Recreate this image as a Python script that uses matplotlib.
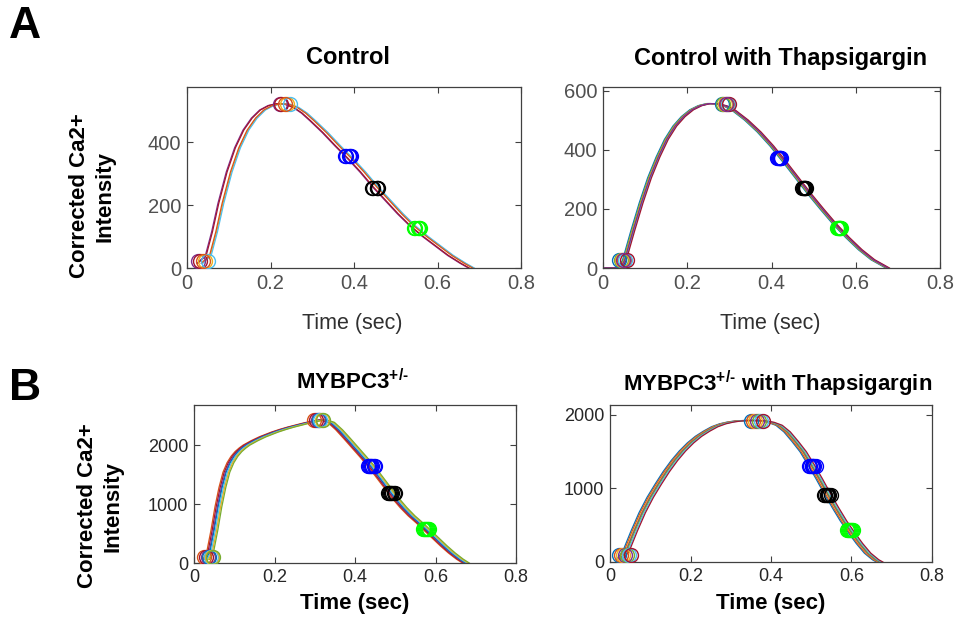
import numpy as np
import matplotlib
matplotlib.use('Agg')
import matplotlib.pyplot as plt

# MATLAB default line colours
mcol = ['#0072BD', '#D95319', '#EDB120', '#7E2F8E', '#77AC30', '#4DBEEE', '#A2142F']

# ---- Control ----
ctrl_t = [0.03, 0.05, 0.065, 0.08, 0.10, 0.12, 0.14, 0.16, 0.18, 0.20, 0.22, 0.24, 0.26, 0.28,
          0.30, 0.33, 0.36, 0.39, 0.42, 0.45, 0.48, 0.51, 0.54, 0.57, 0.60, 0.63, 0.66, 0.68]
ctrl_v = [15, 40, 115, 205, 305, 382, 438, 476, 502, 516, 522, 520, 510, 492,
          468, 430, 388, 348, 305, 258, 215, 172, 133, 100, 70, 40, 15, 0]
ctrl_shift = [-0.006, -0.004, 0.006, 0.008, 0.004]
ctrl_mshift = [-0.010, -0.006, 0.008, 0.014, 0.003]   # spread of the peak circles
ctrl_cols = [mcol[3], mcol[6], mcol[2], mcol[5], mcol[1]]
ctrl_marks = [(0.036, 22), (0.232, 520), (0.385, 355), (0.45, 254), (0.55, 127)]

# ---- Control with Thapsigargin ----
tg_t = [0.0, 0.04, 0.05, 0.07, 0.09, 0.11, 0.13, 0.15, 0.17, 0.19, 0.21, 0.23, 0.25, 0.27,
        0.29, 0.31, 0.34, 0.37, 0.40, 0.43, 0.46, 0.49, 0.52, 0.55, 0.58, 0.61, 0.64, 0.675]
tg_v = [0, 0, 25, 125, 220, 305, 375, 435, 480, 512, 535, 549, 556, 555,
        548, 533, 500, 460, 413, 360, 305, 250, 198, 148, 103, 62, 28, 0]
tg_shift = [-0.004, -0.002, 0.0, 0.002, 0.003, 0.005, 0.001]
tg_mshift = [-0.008, -0.004, 0.0, 0.004, 0.006, 0.010, 0.002]
tg_cols = [mcol[0], mcol[4], mcol[2], mcol[1], mcol[5], mcol[6], mcol[3]]
tg_marks = [(0.046, 27), (0.29, 555), (0.418, 373), (0.477, 270), (0.56, 135)]

# ---- MYBPC3+/- ----
myb_t = [0.03, 0.04, 0.05, 0.06, 0.07, 0.08, 0.09, 0.10, 0.11, 0.12, 0.13, 0.15, 0.17, 0.20,
         0.22, 0.24, 0.26, 0.28, 0.30, 0.32, 0.34, 0.36, 0.38, 0.40, 0.42, 0.44, 0.46, 0.48,
         0.50, 0.52, 0.54, 0.56, 0.58, 0.60, 0.62, 0.64, 0.66, 0.675]
myb_v = [60, 200, 550, 950, 1280, 1540, 1700, 1810, 1890, 1950, 2000, 2075, 2140, 2220,
         2265, 2305, 2340, 2375, 2405, 2430, 2385, 2260, 2110, 1955, 1800, 1640, 1460, 1280,
         1100, 940, 800, 680, 550, 420, 290, 170, 65, 0]
myb_shift = [-0.008, -0.005, -0.002, 0.0, 0.003, 0.006, 0.009]
myb_mshift = [-0.011, -0.007, -0.003, 0.0, 0.004, 0.008, 0.011]
myb_cols = [mcol[1], mcol[6], mcol[3], mcol[0], mcol[5], mcol[2], mcol[4]]
myb_marks = [(0.037, 100), (0.31, 2430), (0.44, 1640), (0.49, 1190), (0.576, 575)]

# ---- MYBPC3+/- with Thapsigargin ----
mybt_t = [0.025, 0.04, 0.06, 0.08, 0.10, 0.12, 0.14, 0.16, 0.18, 0.20, 0.22, 0.24, 0.26, 0.28,
          0.30, 0.32, 0.34, 0.36, 0.38, 0.40, 0.42, 0.44, 0.46, 0.48, 0.50, 0.52, 0.54, 0.56,
          0.58, 0.60, 0.62, 0.64, 0.66, 0.67]
mybt_v = [40, 150, 420, 670, 880, 1060, 1230, 1380, 1510, 1620, 1710, 1780, 1840, 1880,
          1905, 1920, 1925, 1925, 1920, 1900, 1860, 1770, 1640, 1500, 1320, 1130, 930, 740,
          560, 400, 250, 120, 30, 0]
mybt_shift = [-0.008, -0.005, -0.002, 0.0, 0.002, 0.005, 0.008]
mybt_mshift = [-0.014, -0.009, -0.004, 0.0, 0.004, 0.009, 0.014]
mybt_cols = [mcol[0], mcol[1], mcol[2], mcol[3], mcol[4], mcol[5], mcol[6]]
mybt_marks = [(0.037, 90), (0.365, 1925), (0.503, 1300), (0.54, 910), (0.596, 435)]

decay_cols = ['#0000FF', '#000000', '#00FF00']

plt.rcParams['font.family'] = ['Liberation Sans', 'DejaVu Sans']
plt.rcParams['mathtext.fontset'] = 'custom'
plt.rcParams['mathtext.bf'] = 'Liberation Sans:bold'
plt.rcParams['mathtext.rm'] = 'Liberation Sans:bold'
plt.rcParams['mathtext.it'] = 'Liberation Sans:bold'

W, H = 957, 630
fig = plt.figure(figsize=(W / 100, H / 100), dpi=100)


def box(x0, y0, x1, y1):
    return [x0 / W, 1 - y1 / H, (x1 - x0) / W, (y1 - y0) / H]


def panel(rect, t, v, shifts, mshifts, cols, marks, ylim, yticks, top):
    ax = fig.add_axes(rect)
    t = np.array(t)
    for s, c in zip(shifts, cols):
        ax.plot(t + s, v, color=c, lw=0.9, zorder=2)
    for s, ms_, c in zip(shifts, mshifts, cols):
        ax.plot(marks[0][0] + ms_, marks[0][1], 'o', mfc='none', mec=c, ms=10, mew=1, zorder=3)
        ax.plot(marks[1][0] + ms_, marks[1][1], 'o', mfc='none', mec=c, ms=10, mew=1, zorder=3)
        # decay markers sit on the trace itself
        for (mt, mv), dc in zip(marks[2:], decay_cols):
            ax.plot(mt + s, mv, 'o', mfc='none', mec=dc, ms=10, mew=1, zorder=3)
    ax.set_xlim(0, 0.8)
    ax.set_ylim(*ylim)
    ax.set_xticks([0, 0.2, 0.4, 0.6, 0.8])
    ax.set_xticklabels(['0', '0.2', '0.4', '0.6', '0.8'])
    ax.set_yticks(yticks)
    ax.set_yticklabels([str(y) for y in yticks])
    ax.tick_params(direction='in', top=True, right=True, length=4, width=0.8,
                   colors='#404040', pad=4)
    for sp in ax.spines.values():
        sp.set_color('#404040')
        sp.set_linewidth(0.9)
    if top:
        for lab in ax.get_xticklabels() + ax.get_yticklabels():
            lab.set_fontsize(14.5)
            lab.set_color('#505050')
    else:
        for lab in ax.get_xticklabels() + ax.get_yticklabels():
            lab.set_fontsize(13)
            lab.set_color('#262626')
    return ax


panel(box(187, 87, 521, 268), ctrl_t, ctrl_v, ctrl_shift, ctrl_mshift, ctrl_cols, ctrl_marks,
      (0, 575), [0, 200, 400], True)
panel(box(603, 87, 940, 268), tg_t, tg_v, tg_shift, tg_mshift, tg_cols, tg_marks,
      (0, 612), [0, 200, 400, 600], True)
panel(box(194, 405, 516, 563), myb_t, myb_v, myb_shift, myb_mshift, myb_cols, myb_marks,
      (0, 2680), [0, 1000, 2000], False)
panel(box(610, 405, 932, 562), mybt_t, mybt_v, mybt_shift, mybt_mshift, mybt_cols, mybt_marks,
      (0, 2136), [0, 1000, 2000], False)


def ftext(x, y, s, **kw):
    fig.text(x / W, 1 - y / H, s, ha='center', va='center', **kw)


# panel letters
ftext(25, 27, 'A', fontsize=32, fontweight='bold')
ftext(25, 388, 'B', fontsize=32, fontweight='bold')

# titles
sup = '$^{+/\u2010}$'
ftext(348, 58, 'Control', fontsize=17, fontweight='bold')
ftext(781, 58, 'Control with Thapsigargin', fontsize=17, fontweight='bold')
ftext(352, 382, 'MYBPC3' + sup, fontsize=16, fontweight='bold')
ftext(778, 384, 'MYBPC3' + sup + ' with Thapsigargin', fontsize=16, fontweight='bold')

# axis labels
ftext(352, 323, 'Time (sec)', fontsize=15.5, color='#303030')
ftext(770, 323, 'Time (sec)', fontsize=15.5, color='#303030')
ftext(355, 604, 'Time (sec)', fontsize=16, fontweight='bold')
ftext(771, 604, 'Time (sec)', fontsize=16, fontweight='bold')

ftext(92, 196, 'Corrected Ca2+\nIntensity', fontsize=16, fontweight='bold',
      rotation=90, linespacing=1.3)
ftext(100, 506, 'Corrected Ca2+\nIntensity', fontsize=16, fontweight='bold',
      rotation=90, linespacing=1.3)

fig.savefig('out.png', dpi=100)
